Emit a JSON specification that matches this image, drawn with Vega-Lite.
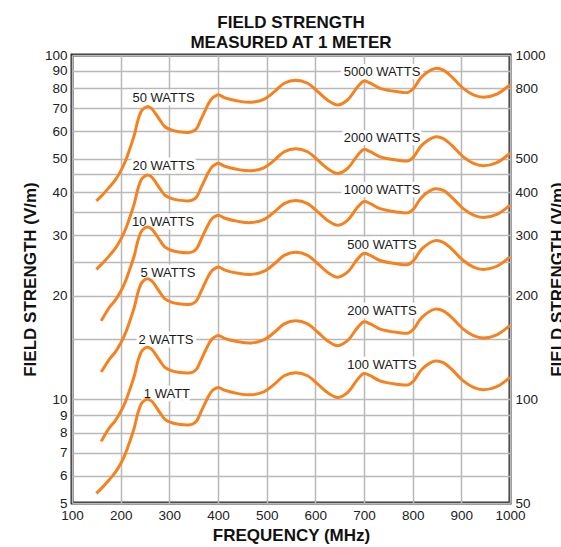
{
  "$schema": "https://vega.github.io/schema/vega-lite/v6.json",
  "width": 438,
  "height": 448,
  "autosize": "none",
  "padding": {"left": 72, "top": 55, "right": 51, "bottom": 44},
  "background": "white",
  "config": {
    "view": {"stroke": "#2b2b2b", "strokeWidth": 3},
    "font": "Liberation Sans"
  },
  "title": {
    "text": ["FIELD STRENGTH", "MEASURED AT 1 METER"],
    "fontSize": 17,
    "fontWeight": "bold",
    "font": "Liberation Sans",
    "anchor": "middle",
    "offset": -4,
    "lineHeight": 20,
    "color": "#111111"
  },
  "datasets": {
    "curves": [
      {"s": "50", "f": 150, "v": 37.7}, {"s": "50", "f": 163, "v": 39.3}, {"s": "50", "f": 176, "v": 41.2}, {"s": "50", "f": 189, "v": 43.4}, {"s": "50", "f": 200, "v": 46.0}, {"s": "50", "f": 210, "v": 49.3}, {"s": "50", "f": 219, "v": 53.5}, {"s": "50", "f": 228, "v": 58.5}, {"s": "50", "f": 236, "v": 65.0}, {"s": "50", "f": 244, "v": 69.2}, {"s": "50", "f": 254, "v": 70.8}, {"s": "50", "f": 263, "v": 70.0}, {"s": "50", "f": 271, "v": 67.8}, {"s": "50", "f": 281, "v": 64.6}, {"s": "50", "f": 291, "v": 61.9}, {"s": "50", "f": 305, "v": 60.5}, {"s": "50", "f": 319, "v": 59.9}, {"s": "50", "f": 339, "v": 59.6}, {"s": "50", "f": 348, "v": 60.0}, {"s": "50", "f": 356, "v": 61.2}, {"s": "50", "f": 365, "v": 65.0}, {"s": "50", "f": 374, "v": 69.2}, {"s": "50", "f": 381, "v": 72.4}, {"s": "50", "f": 388, "v": 74.9}, {"s": "50", "f": 395, "v": 76.1}, {"s": "50", "f": 401, "v": 76.6}, {"s": "50", "f": 413, "v": 75.2}, {"s": "50", "f": 441, "v": 73.5}, {"s": "50", "f": 468, "v": 72.9}, {"s": "50", "f": 495, "v": 74.5}, {"s": "50", "f": 516, "v": 78.3}, {"s": "50", "f": 536, "v": 82.8}, {"s": "50", "f": 560, "v": 84.5}, {"s": "50", "f": 584, "v": 82.8}, {"s": "50", "f": 605, "v": 78.3}, {"s": "50", "f": 625, "v": 74.0}, {"s": "50", "f": 646, "v": 71.6}, {"s": "50", "f": 666, "v": 74.0}, {"s": "50", "f": 687, "v": 80.9}, {"s": "50", "f": 700, "v": 84.0}, {"s": "50", "f": 713, "v": 82.8}, {"s": "50", "f": 733, "v": 80.0}, {"s": "50", "f": 767, "v": 78.3}, {"s": "50", "f": 791, "v": 77.9}, {"s": "50", "f": 802, "v": 80.0}, {"s": "50", "f": 819, "v": 86.5}, {"s": "50", "f": 846, "v": 91.4}, {"s": "50", "f": 863, "v": 90.4}, {"s": "50", "f": 880, "v": 86.5}, {"s": "50", "f": 904, "v": 80.0}, {"s": "50", "f": 925, "v": 76.6}, {"s": "50", "f": 945, "v": 75.4}, {"s": "50", "f": 973, "v": 77.0}, {"s": "50", "f": 1000, "v": 82.0},

      {"s": "20", "f": 150, "v": 23.85}, {"s": "20", "f": 163, "v": 24.86}, {"s": "20", "f": 176, "v": 26.06}, {"s": "20", "f": 189, "v": 27.45}, {"s": "20", "f": 200, "v": 29.10}, {"s": "20", "f": 210, "v": 31.18}, {"s": "20", "f": 219, "v": 33.84}, {"s": "20", "f": 228, "v": 37.00}, {"s": "20", "f": 236, "v": 41.11}, {"s": "20", "f": 244, "v": 43.77}, {"s": "20", "f": 254, "v": 44.78}, {"s": "20", "f": 263, "v": 44.28}, {"s": "20", "f": 271, "v": 42.88}, {"s": "20", "f": 281, "v": 40.86}, {"s": "20", "f": 291, "v": 39.15}, {"s": "20", "f": 305, "v": 38.27}, {"s": "20", "f": 319, "v": 37.89}, {"s": "20", "f": 339, "v": 37.70}, {"s": "20", "f": 348, "v": 37.95}, {"s": "20", "f": 356, "v": 38.71}, {"s": "20", "f": 365, "v": 41.11}, {"s": "20", "f": 374, "v": 43.77}, {"s": "20", "f": 381, "v": 45.79}, {"s": "20", "f": 388, "v": 47.37}, {"s": "20", "f": 395, "v": 48.13}, {"s": "20", "f": 401, "v": 48.45}, {"s": "20", "f": 413, "v": 47.56}, {"s": "20", "f": 441, "v": 46.49}, {"s": "20", "f": 468, "v": 46.11}, {"s": "20", "f": 495, "v": 47.12}, {"s": "20", "f": 516, "v": 49.53}, {"s": "20", "f": 536, "v": 52.37}, {"s": "20", "f": 560, "v": 53.45}, {"s": "20", "f": 584, "v": 52.37}, {"s": "20", "f": 605, "v": 49.53}, {"s": "20", "f": 625, "v": 46.81}, {"s": "20", "f": 646, "v": 45.29}, {"s": "20", "f": 666, "v": 46.81}, {"s": "20", "f": 687, "v": 51.17}, {"s": "20", "f": 700, "v": 53.13}, {"s": "20", "f": 713, "v": 52.37}, {"s": "20", "f": 733, "v": 50.60}, {"s": "20", "f": 767, "v": 49.53}, {"s": "20", "f": 791, "v": 49.27}, {"s": "20", "f": 802, "v": 50.60}, {"s": "20", "f": 819, "v": 54.71}, {"s": "20", "f": 846, "v": 57.81}, {"s": "20", "f": 863, "v": 57.18}, {"s": "20", "f": 880, "v": 54.71}, {"s": "20", "f": 904, "v": 50.60}, {"s": "20", "f": 925, "v": 48.45}, {"s": "20", "f": 945, "v": 47.69}, {"s": "20", "f": 973, "v": 48.70}, {"s": "20", "f": 1000, "v": 51.87},

      {"s": "10", "f": 160, "v": 16.9}, {"s": "10", "f": 176, "v": 18.42}, {"s": "10", "f": 189, "v": 19.41}, {"s": "10", "f": 200, "v": 20.57}, {"s": "10", "f": 210, "v": 22.05}, {"s": "10", "f": 219, "v": 23.93}, {"s": "10", "f": 228, "v": 26.16}, {"s": "10", "f": 236, "v": 29.07}, {"s": "10", "f": 244, "v": 30.95}, {"s": "10", "f": 254, "v": 31.66}, {"s": "10", "f": 263, "v": 31.30}, {"s": "10", "f": 271, "v": 30.32}, {"s": "10", "f": 281, "v": 28.89}, {"s": "10", "f": 291, "v": 27.68}, {"s": "10", "f": 305, "v": 27.06}, {"s": "10", "f": 319, "v": 26.79}, {"s": "10", "f": 339, "v": 26.65}, {"s": "10", "f": 348, "v": 26.83}, {"s": "10", "f": 356, "v": 27.37}, {"s": "10", "f": 365, "v": 29.07}, {"s": "10", "f": 374, "v": 30.95}, {"s": "10", "f": 381, "v": 32.38}, {"s": "10", "f": 388, "v": 33.50}, {"s": "10", "f": 395, "v": 34.03}, {"s": "10", "f": 401, "v": 34.26}, {"s": "10", "f": 413, "v": 33.63}, {"s": "10", "f": 441, "v": 32.87}, {"s": "10", "f": 468, "v": 32.60}, {"s": "10", "f": 495, "v": 33.32}, {"s": "10", "f": 516, "v": 35.02}, {"s": "10", "f": 536, "v": 37.03}, {"s": "10", "f": 560, "v": 37.79}, {"s": "10", "f": 584, "v": 37.03}, {"s": "10", "f": 605, "v": 35.02}, {"s": "10", "f": 625, "v": 33.09}, {"s": "10", "f": 646, "v": 32.02}, {"s": "10", "f": 666, "v": 33.09}, {"s": "10", "f": 687, "v": 36.18}, {"s": "10", "f": 700, "v": 37.56}, {"s": "10", "f": 713, "v": 37.03}, {"s": "10", "f": 733, "v": 35.78}, {"s": "10", "f": 767, "v": 35.02}, {"s": "10", "f": 791, "v": 34.84}, {"s": "10", "f": 802, "v": 35.78}, {"s": "10", "f": 819, "v": 38.68}, {"s": "10", "f": 846, "v": 40.87}, {"s": "10", "f": 863, "v": 40.43}, {"s": "10", "f": 880, "v": 38.68}, {"s": "10", "f": 904, "v": 35.78}, {"s": "10", "f": 925, "v": 34.26}, {"s": "10", "f": 945, "v": 33.72}, {"s": "10", "f": 973, "v": 34.43}, {"s": "10", "f": 1000, "v": 36.67},

      {"s": "5", "f": 160, "v": 12.0}, {"s": "5", "f": 176, "v": 13.03}, {"s": "5", "f": 189, "v": 13.72}, {"s": "5", "f": 200, "v": 14.55}, {"s": "5", "f": 210, "v": 15.59}, {"s": "5", "f": 219, "v": 16.92}, {"s": "5", "f": 228, "v": 18.50}, {"s": "5", "f": 236, "v": 20.55}, {"s": "5", "f": 244, "v": 21.88}, {"s": "5", "f": 254, "v": 22.39}, {"s": "5", "f": 263, "v": 22.13}, {"s": "5", "f": 271, "v": 21.44}, {"s": "5", "f": 281, "v": 20.43}, {"s": "5", "f": 291, "v": 19.57}, {"s": "5", "f": 305, "v": 19.13}, {"s": "5", "f": 319, "v": 18.94}, {"s": "5", "f": 339, "v": 18.85}, {"s": "5", "f": 348, "v": 18.97}, {"s": "5", "f": 356, "v": 19.35}, {"s": "5", "f": 365, "v": 20.55}, {"s": "5", "f": 374, "v": 21.88}, {"s": "5", "f": 381, "v": 22.89}, {"s": "5", "f": 388, "v": 23.68}, {"s": "5", "f": 395, "v": 24.06}, {"s": "5", "f": 401, "v": 24.22}, {"s": "5", "f": 413, "v": 23.78}, {"s": "5", "f": 441, "v": 23.24}, {"s": "5", "f": 468, "v": 23.05}, {"s": "5", "f": 495, "v": 23.56}, {"s": "5", "f": 516, "v": 24.76}, {"s": "5", "f": 536, "v": 26.18}, {"s": "5", "f": 560, "v": 26.72}, {"s": "5", "f": 584, "v": 26.18}, {"s": "5", "f": 605, "v": 24.76}, {"s": "5", "f": 625, "v": 23.40}, {"s": "5", "f": 646, "v": 22.64}, {"s": "5", "f": 666, "v": 23.40}, {"s": "5", "f": 687, "v": 25.58}, {"s": "5", "f": 700, "v": 26.56}, {"s": "5", "f": 713, "v": 26.18}, {"s": "5", "f": 733, "v": 25.30}, {"s": "5", "f": 767, "v": 24.76}, {"s": "5", "f": 791, "v": 24.63}, {"s": "5", "f": 802, "v": 25.30}, {"s": "5", "f": 819, "v": 27.35}, {"s": "5", "f": 846, "v": 28.90}, {"s": "5", "f": 863, "v": 28.58}, {"s": "5", "f": 880, "v": 27.35}, {"s": "5", "f": 904, "v": 25.30}, {"s": "5", "f": 925, "v": 24.22}, {"s": "5", "f": 945, "v": 23.84}, {"s": "5", "f": 973, "v": 24.35}, {"s": "5", "f": 1000, "v": 25.93},

      {"s": "2", "f": 160, "v": 7.55}, {"s": "2", "f": 176, "v": 8.24}, {"s": "2", "f": 189, "v": 8.68}, {"s": "2", "f": 200, "v": 9.20}, {"s": "2", "f": 210, "v": 9.86}, {"s": "2", "f": 219, "v": 10.70}, {"s": "2", "f": 228, "v": 11.70}, {"s": "2", "f": 236, "v": 13.00}, {"s": "2", "f": 244, "v": 13.84}, {"s": "2", "f": 254, "v": 14.16}, {"s": "2", "f": 263, "v": 14.00}, {"s": "2", "f": 271, "v": 13.56}, {"s": "2", "f": 281, "v": 12.92}, {"s": "2", "f": 291, "v": 12.38}, {"s": "2", "f": 305, "v": 12.10}, {"s": "2", "f": 319, "v": 11.98}, {"s": "2", "f": 339, "v": 11.92}, {"s": "2", "f": 348, "v": 12.00}, {"s": "2", "f": 356, "v": 12.24}, {"s": "2", "f": 365, "v": 13.00}, {"s": "2", "f": 374, "v": 13.84}, {"s": "2", "f": 381, "v": 14.48}, {"s": "2", "f": 388, "v": 14.98}, {"s": "2", "f": 395, "v": 15.22}, {"s": "2", "f": 401, "v": 15.32}, {"s": "2", "f": 413, "v": 15.04}, {"s": "2", "f": 441, "v": 14.70}, {"s": "2", "f": 468, "v": 14.58}, {"s": "2", "f": 495, "v": 14.90}, {"s": "2", "f": 516, "v": 15.66}, {"s": "2", "f": 536, "v": 16.56}, {"s": "2", "f": 560, "v": 16.90}, {"s": "2", "f": 584, "v": 16.56}, {"s": "2", "f": 605, "v": 15.66}, {"s": "2", "f": 625, "v": 14.80}, {"s": "2", "f": 646, "v": 14.32}, {"s": "2", "f": 666, "v": 14.80}, {"s": "2", "f": 687, "v": 16.18}, {"s": "2", "f": 700, "v": 16.80}, {"s": "2", "f": 713, "v": 16.56}, {"s": "2", "f": 733, "v": 16.00}, {"s": "2", "f": 767, "v": 15.66}, {"s": "2", "f": 791, "v": 15.58}, {"s": "2", "f": 802, "v": 16.00}, {"s": "2", "f": 819, "v": 17.30}, {"s": "2", "f": 846, "v": 18.28}, {"s": "2", "f": 863, "v": 18.08}, {"s": "2", "f": 880, "v": 17.30}, {"s": "2", "f": 904, "v": 16.00}, {"s": "2", "f": 925, "v": 15.32}, {"s": "2", "f": 945, "v": 15.08}, {"s": "2", "f": 973, "v": 15.40}, {"s": "2", "f": 1000, "v": 16.40},

      {"s": "1", "f": 150, "v": 5.33}, {"s": "1", "f": 163, "v": 5.56}, {"s": "1", "f": 176, "v": 5.83}, {"s": "1", "f": 189, "v": 6.14}, {"s": "1", "f": 200, "v": 6.50}, {"s": "1", "f": 210, "v": 6.97}, {"s": "1", "f": 219, "v": 7.56}, {"s": "1", "f": 228, "v": 8.27}, {"s": "1", "f": 236, "v": 9.19}, {"s": "1", "f": 244, "v": 9.78}, {"s": "1", "f": 254, "v": 10.01}, {"s": "1", "f": 263, "v": 9.90}, {"s": "1", "f": 271, "v": 9.59}, {"s": "1", "f": 281, "v": 9.13}, {"s": "1", "f": 291, "v": 8.75}, {"s": "1", "f": 305, "v": 8.55}, {"s": "1", "f": 319, "v": 8.47}, {"s": "1", "f": 339, "v": 8.43}, {"s": "1", "f": 348, "v": 8.48}, {"s": "1", "f": 356, "v": 8.65}, {"s": "1", "f": 365, "v": 9.19}, {"s": "1", "f": 374, "v": 9.78}, {"s": "1", "f": 381, "v": 10.24}, {"s": "1", "f": 388, "v": 10.59}, {"s": "1", "f": 395, "v": 10.76}, {"s": "1", "f": 401, "v": 10.83}, {"s": "1", "f": 413, "v": 10.63}, {"s": "1", "f": 441, "v": 10.39}, {"s": "1", "f": 468, "v": 10.31}, {"s": "1", "f": 495, "v": 10.53}, {"s": "1", "f": 516, "v": 11.07}, {"s": "1", "f": 536, "v": 11.71}, {"s": "1", "f": 560, "v": 11.95}, {"s": "1", "f": 584, "v": 11.71}, {"s": "1", "f": 605, "v": 11.07}, {"s": "1", "f": 625, "v": 10.46}, {"s": "1", "f": 646, "v": 10.12}, {"s": "1", "f": 666, "v": 10.46}, {"s": "1", "f": 687, "v": 11.44}, {"s": "1", "f": 700, "v": 11.88}, {"s": "1", "f": 713, "v": 11.71}, {"s": "1", "f": 733, "v": 11.31}, {"s": "1", "f": 767, "v": 11.07}, {"s": "1", "f": 791, "v": 11.02}, {"s": "1", "f": 802, "v": 11.31}, {"s": "1", "f": 819, "v": 12.23}, {"s": "1", "f": 846, "v": 12.92}, {"s": "1", "f": 863, "v": 12.78}, {"s": "1", "f": 880, "v": 12.23}, {"s": "1", "f": 904, "v": 11.31}, {"s": "1", "f": 925, "v": 10.83}, {"s": "1", "f": 945, "v": 10.66}, {"s": "1", "f": 973, "v": 10.89}, {"s": "1", "f": 1000, "v": 11.59}
    ],
    "labels": [
      {"t": "50 WATTS", "f": 288, "v": 74.8},
      {"t": "20 WATTS", "f": 288, "v": 47.6},
      {"t": "10 WATTS", "f": 287, "v": 32.8},
      {"t": "5 WATTS", "f": 297, "v": 23.2},
      {"t": "2 WATTS", "f": 293, "v": 14.9},
      {"t": "1 WATT", "f": 295, "v": 10.34},
      {"t": "5000 WATTS", "f": 737, "v": 89.4},
      {"t": "2000 WATTS", "f": 737, "v": 57.5},
      {"t": "1000 WATTS", "f": 737, "v": 40.5},
      {"t": "500 WATTS", "f": 737, "v": 28.1},
      {"t": "200 WATTS", "f": 737, "v": 18.05},
      {"t": "100 WATTS", "f": 737, "v": 12.58}
    ]
  },
  "layer": [
    {
      "data": {"name": "labels"},
      "mark": {"type": "text", "fontSize": 13, "font": "Liberation Sans", "align": "center", "baseline": "middle", "stroke": "white", "strokeWidth": 7, "strokeJoin": "round", "fill": "white"},
      "encoding": {
        "x": {"field": "f", "type": "quantitative", "scale": {"domain": [100, 1000], "nice": false}, "axis": null},
        "y": {"field": "v", "type": "quantitative", "scale": {"type": "log", "domain": [5, 100], "nice": false}, "axis": null},
        "text": {"field": "t"}
      }
    },
    {
      "data": {"name": "curves"},
      "mark": {"type": "line", "color": "#f5821f", "strokeWidth": 3, "interpolate": "catmull-rom"},
      "encoding": {
        "x": {
          "field": "f", "type": "quantitative",
          "scale": {"domain": [100, 1000], "nice": false},
          "axis": {
            "values": [100, 200, 300, 400, 500, 600, 700, 800, 900, 1000],
            "format": "d",
            "title": "FREQUENCY (MHz)",
            "titleFont": "Liberation Sans", "titleFontSize": 17, "titleFontWeight": "bold", "titleColor": "#111111",
            "titleY": 32, "titleBaseline": "middle",
            "labelFont": "Liberation Sans", "labelFontSize": 13.5, "labelColor": "#222222", "labelPadding": 5,
            "labelFlush": false, "labelOverlap": false,
            "ticks": false, "domain": false,
            "grid": true, "gridColor": "#b9b9b9", "gridWidth": 1.5
          }
        },
        "y": {
          "field": "v", "type": "quantitative",
          "scale": {"type": "log", "domain": [5, 100], "nice": false},
          "axis": {
            "values": [5, 6, 7, 8, 9, 10, 15, 20, 25, 30, 35, 40, 45, 50, 60, 70, 80, 90, 100],
            "labelExpr": "indexof([15, 25, 35, 45], datum.value) >= 0 ? '' : datum.label",
            "title": "FIELD STRENGTH (V/m)",
            "titleFont": "Liberation Sans", "titleFontSize": 17, "titleFontWeight": "bold", "titleColor": "#111111",
            "titleX": -42, "titleY": 224, "titleAngle": 270, "titleBaseline": "middle", "titleAlign": "center",
            "labelFont": "Liberation Sans", "labelFontSize": 13.5, "labelColor": "#222222", "labelPadding": 5,
            "labelFlush": false, "labelOverlap": false,
            "ticks": false, "domain": false,
            "grid": true, "gridColor": "#b9b9b9", "gridWidth": 1.5
          }
        },
        "detail": {"field": "s"}
      }
    },
    {
      "data": {"name": "labels"},
      "mark": {"type": "text", "fontSize": 13, "font": "Liberation Sans", "align": "center", "baseline": "middle", "color": "#1a1a1a"},
      "encoding": {
        "x": {"field": "f", "type": "quantitative", "scale": {"domain": [100, 1000], "nice": false}, "axis": null},
        "y": {
          "field": "v", "type": "quantitative",
          "scale": {"type": "log", "domain": [5, 100], "nice": false},
          "axis": {
            "orient": "right",
            "values": [5, 10, 20, 30, 40, 50, 80, 100],
            "labelExpr": "'' + (datum.value * 10)",
            "title": "FIELD STRENGTH (V/m)",
            "titleFont": "Liberation Sans", "titleFontSize": 17, "titleFontWeight": "bold", "titleColor": "#111111",
            "titleX": 47, "titleY": 224, "titleAngle": 270, "titleBaseline": "middle", "titleAlign": "center",
            "labelFont": "Liberation Sans", "labelFontSize": 13.5, "labelColor": "#222222", "labelPadding": 5,
            "labelFlush": false, "labelOverlap": false,
            "ticks": false, "domain": false, "grid": false
          }
        },
        "text": {"field": "t"}
      }
    }
  ],
  "resolve": {"scale": {"x": "independent", "y": "independent"}}
}
